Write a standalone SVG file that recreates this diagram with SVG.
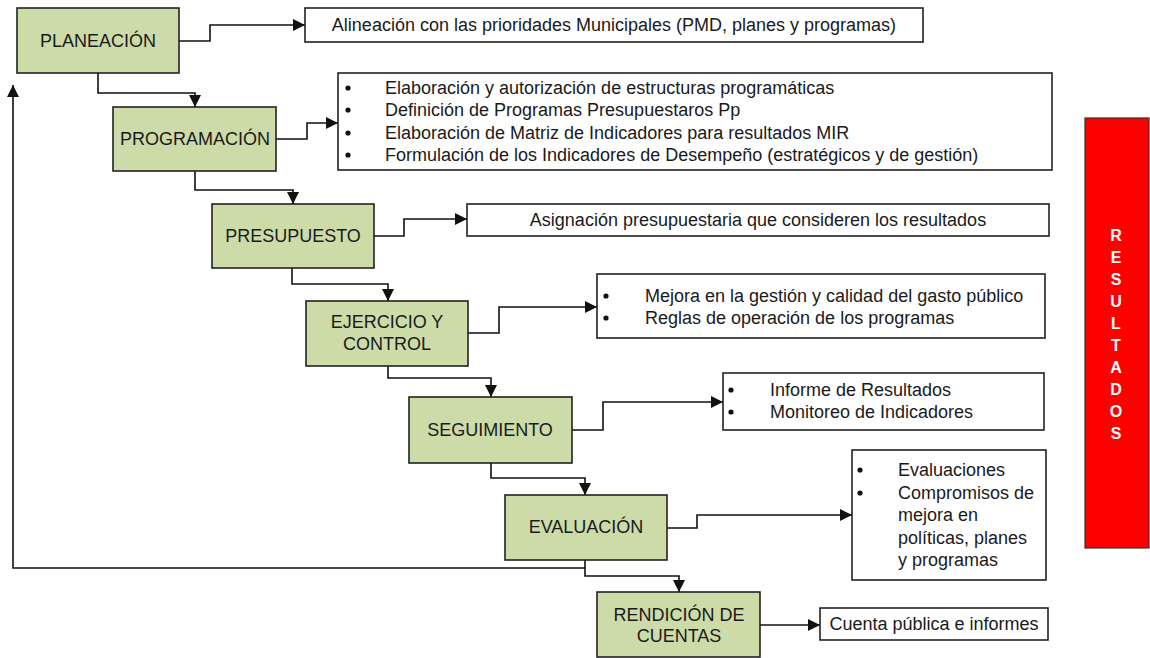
<svg xmlns="http://www.w3.org/2000/svg" width="1150" height="658" viewBox="0 0 1150 658">
<style>
.stage{fill:#cddba9;stroke:#222;stroke-width:1.6}
.info{fill:#fff;stroke:#222;stroke-width:1.6}
.lbl{font-family:"Liberation Sans",Arial,sans-serif;font-size:18px;fill:#1a1a1a;text-anchor:middle}
.txt{font-family:"Liberation Sans",Arial,sans-serif;font-size:18px;fill:#1a1a1a}
.ctr{text-anchor:middle}
.bul{fill:#111}
.con{fill:none;stroke:#111;stroke-width:1.6}
.res{font-family:"Liberation Sans",Arial,sans-serif;font-size:16px;font-weight:bold;fill:#fff;text-anchor:middle}
</style>
<defs>
<marker id="arr" markerUnits="userSpaceOnUse" markerWidth="12" markerHeight="12" viewBox="0 0 12 12" refX="12" refY="6" orient="auto">
<path d="M0,0 L12,6 L0,12 z" fill="#111"/>
</marker>
</defs>
<rect width="1150" height="658" fill="#fff"/>

<g id="connectors">
<path class="con" d="M179,41 H210 V25 H305" marker-end="url(#arr)"/>
<path class="con" d="M98,73 V93 H195 V107" marker-end="url(#arr)"/>
<path class="con" d="M276,139 H307 V123 H338" marker-end="url(#arr)"/>
<path class="con" d="M195,171 V190 H293 V204" marker-end="url(#arr)"/>
<path class="con" d="M374,236 H404 V219 H467" marker-end="url(#arr)"/>
<path class="con" d="M292,268 V284 H388 V301" marker-end="url(#arr)"/>
<path class="con" d="M468,333 H499 V307 H597" marker-end="url(#arr)"/>
<path class="con" d="M388,366 V378 H491 V397" marker-end="url(#arr)"/>
<path class="con" d="M572,430 H603 V402 H723" marker-end="url(#arr)"/>
<path class="con" d="M491,463 V478 H585 V495" marker-end="url(#arr)"/>
<path class="con" d="M667,528 H697 V515 H852" marker-end="url(#arr)"/>
<path class="con" d="M585,560 V576 H679 V592" marker-end="url(#arr)"/>
<path class="con" d="M585,568 H13 V85" marker-end="url(#arr)" stroke="#333" stroke-width="2"/>
<path class="con" d="M760,625 H820" marker-end="url(#arr)"/>
</g>

<g id="planeacion">
<rect class="stage" x="17" y="8" width="162" height="65"/>
<text class="lbl" x="98" y="47">PLANEACIÓN</text>
</g>
<g id="alineacion">
<rect class="info" x="305" y="8" width="618" height="34"/>
<text class="txt ctr" x="614" y="31">Alineación con las prioridades Municipales (PMD, planes y programas)</text>
</g>

<g id="programacion">
<rect class="stage" x="113" y="107" width="163" height="64"/>
<text class="lbl" x="195" y="145">PROGRAMACIÓN</text>
</g>
<g id="programacion-detalle">
<rect class="info" x="338" y="73" width="714" height="97"/>
<circle class="bul" cx="348" cy="88" r="2.6"/>
<circle class="bul" cx="348" cy="110" r="2.6"/>
<circle class="bul" cx="348" cy="133" r="2.6"/>
<circle class="bul" cx="348" cy="155" r="2.6"/>
<text class="txt" x="385" y="94">Elaboración y autorización de estructuras programáticas</text>
<text class="txt" x="385" y="116">Definición de Programas Presupuestaros Pp</text>
<text class="txt" x="385" y="139">Elaboración de Matriz de Indicadores para resultados MIR</text>
<text class="txt" x="385" y="161">Formulación de los Indicadores de Desempeño (estratégicos y de gestión)</text>
</g>

<g id="presupuesto">
<rect class="stage" x="212" y="204" width="162" height="64"/>
<text class="lbl" x="293" y="242">PRESUPUESTO</text>
</g>
<g id="asignacion">
<rect class="info" x="467" y="204" width="582" height="32"/>
<text class="txt ctr" x="758" y="226">Asignación presupuestaria que consideren los resultados</text>
</g>

<g id="ejercicio">
<rect class="stage" x="306" y="301" width="162" height="65"/>
<text class="lbl" x="387" y="328">EJERCICIO Y</text>
<text class="lbl" x="387" y="350">CONTROL</text>
</g>
<g id="ejercicio-detalle">
<rect class="info" x="597" y="274" width="448" height="64"/>
<circle class="bul" cx="606" cy="296" r="2.6"/>
<circle class="bul" cx="606" cy="318" r="2.6"/>
<text class="txt" x="645" y="302">Mejora en la gestión y calidad del gasto público</text>
<text class="txt" x="645" y="324">Reglas de operación de los programas</text>
</g>

<g id="seguimiento">
<rect class="stage" x="409" y="397" width="163" height="66"/>
<text class="lbl" x="490" y="436">SEGUIMIENTO</text>
</g>
<g id="seguimiento-detalle">
<rect class="info" x="723" y="373" width="321" height="57"/>
<circle class="bul" cx="731" cy="390" r="2.6"/>
<circle class="bul" cx="731" cy="412" r="2.6"/>
<text class="txt" x="770" y="396">Informe de Resultados</text>
<text class="txt" x="770" y="418">Monitoreo de Indicadores</text>
</g>

<g id="evaluacion">
<rect class="stage" x="505" y="495" width="162" height="65"/>
<text class="lbl" x="586" y="533">EVALUACIÓN</text>
</g>
<g id="evaluacion-detalle">
<rect class="info" x="852" y="450" width="194" height="130"/>
<circle class="bul" cx="860" cy="470" r="2.6"/>
<circle class="bul" cx="860" cy="493" r="2.6"/>
<text class="txt" x="898" y="476">Evaluaciones</text>
<text class="txt" x="898" y="499">Compromisos de</text>
<text class="txt" x="898" y="521">mejora en</text>
<text class="txt" x="898" y="544">políticas, planes</text>
<text class="txt" x="898" y="566">y programas</text>
</g>

<g id="rendicion">
<rect class="stage" x="597" y="592" width="163" height="65"/>
<text class="lbl" x="679" y="621">RENDICIÓN DE</text>
<text class="lbl" x="679" y="642">CUENTAS</text>
</g>
<g id="cuenta">
<rect class="info" x="820" y="608" width="228" height="32"/>
<text class="txt ctr" x="934" y="630">Cuenta pública e informes</text>
</g>

<g id="resultados">
<rect x="1085" y="118" width="64" height="430" fill="#ff0000" stroke="#333" stroke-width="1.2"/>
<text class="res" x="1116" y="241">R</text>
<text class="res" x="1116" y="263">E</text>
<text class="res" x="1116" y="285">S</text>
<text class="res" x="1116" y="307">U</text>
<text class="res" x="1116" y="329">L</text>
<text class="res" x="1116" y="351">T</text>
<text class="res" x="1116" y="373">A</text>
<text class="res" x="1116" y="395">D</text>
<text class="res" x="1116" y="417">O</text>
<text class="res" x="1116" y="439">S</text>
</g>
</svg>
